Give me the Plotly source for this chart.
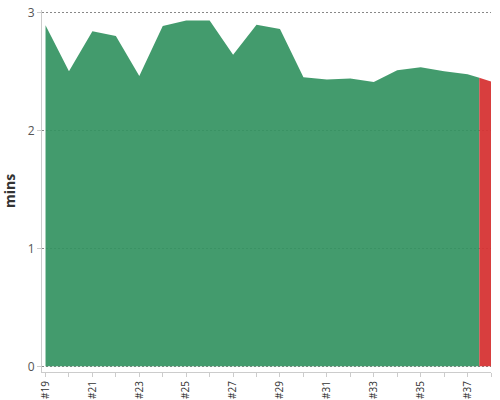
import plotly.graph_objects as go

# sprint labels and average duration (mins)
sprints = ["#19", "#20", "#21", "#22", "#23", "#24", "#25", "#26", "#27", "#28",
           "#29", "#30", "#31", "#32", "#33", "#34", "#35", "#36", "#37", "#38"]
durations = [2.89, 2.50, 2.84, 2.80, 2.46, 2.885, 2.93, 2.93, 2.64, 2.895,
             2.86, 2.45, 2.43, 2.44, 2.41, 2.51, 2.535, 2.50, 2.475, 2.415]

idx = list(range(len(sprints)))

# colour zone boundary: halfway between the last two points
zone_x = idx[-2] + 0.5
zone_y = (durations[-2] + durations[-1]) / 2

green = go.Scatter(
    x=idx[:-1] + [zone_x],
    y=durations[:-1] + [zone_y],
    mode='lines',
    line=dict(width=0, color='rgb(67,156,110)'),
    fill='tozeroy',
    fillcolor='rgba(51,147,97,0.92)',
    hoverinfo='y'
)
red = go.Scatter(
    x=[zone_x, idx[-1]],
    y=[zone_y, durations[-1]],
    mode='lines',
    line=dict(width=0, color='rgb(214,52,52)'),
    fill='tozeroy',
    fillcolor='rgba(214,52,52,0.95)',
    hoverinfo='y'
)

ticktext = [s if i % 2 == 0 else "" for i, s in enumerate(sprints)]

fig = go.Figure(data=[green, red])
fig.update_layout(
    width=500, height=400,
    margin=dict(l=42, r=9, t=10, b=28),
    paper_bgcolor='white', plot_bgcolor='white',
    font=dict(family='Open Sans', size=12, color='#555'),
    showlegend=False,
    xaxis=dict(
        range=[-0.15, idx[-1]],
        tickmode='array', tickvals=idx, ticktext=ticktext,
        tickangle=-90, tickfont=dict(size=10, color='#333'),
        ticks='outside', ticklen=4, tickcolor='#ccc',
        showline=True, linecolor='#ccc', linewidth=1,
        showgrid=False, zeroline=False, automargin=False
    ),
    yaxis=dict(
        range=[-0.048, 3.02],
        tickvals=[1, 2, 3],
        tickfont=dict(size=12, color='#555'),
        ticks='outside', ticklen=4, tickcolor='#ccc',
        showline=True, linecolor='#ccc', linewidth=1,
        showgrid=True, gridcolor='#888', griddash='2px,2px', gridwidth=1,
        zeroline=False, automargin=False,
        title=dict(text='<b>mins</b>', font=dict(size=14, color='#333'), standoff=9)
    )
)
# 0 label without a gridline (hidden behind the area in the original)
fig.update_yaxes(tickvals=[0, 1, 2, 3], minor=dict(showgrid=False))

config = {'displayModeBar': False}

# drop the browser's default page margin so the figure sits at 0,0
fig.write_html("out.html", config=config,
               post_script="document.body.style.margin='0';")
